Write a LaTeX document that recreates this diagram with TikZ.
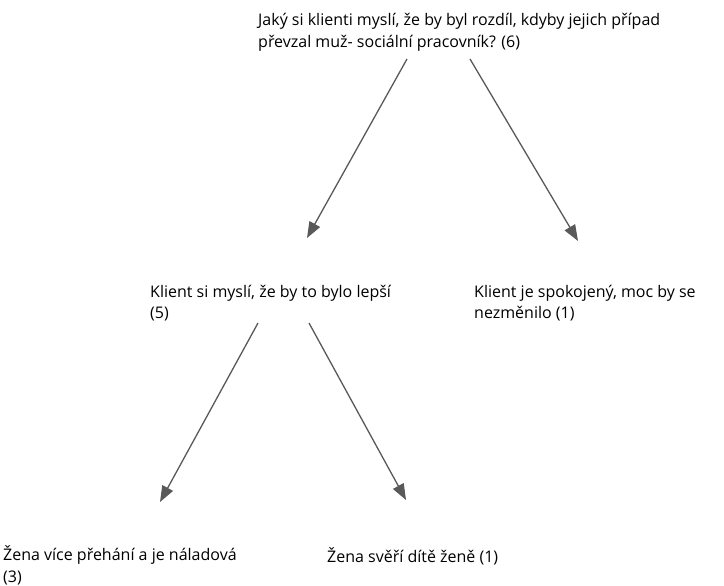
\documentclass[tikz,border=0pt]{standalone}
\usepackage{fontspec}
\setmainfont{Open Sans}
\usetikzlibrary{arrows.meta}

\tikzset{
  txt/.style={anchor=base west,inner sep=0pt,align=left,
    font=\fontsize{16}{21.5}\selectfont},
  arr/.style={draw=black!65,line width=1.3pt,
    -{Triangle[length=16pt,width=12pt,fill=black!65]}}
}

\begin{document}
\begin{tikzpicture}[x=1pt,y=-1pt]
  \useasboundingbox (0,0) rectangle (724,586);
  \node[txt] (q) at (258,47.5) {Jaký si klienti myslí, že by byl rozdíl, kdyby jejich případ\\převzal muž- sociální pracovník? (6)};
  \node[txt] (better) at (150,318.5) {Klient si myslí, že by to bylo lepší\\(5)};
  \node[txt] (same) at (474,318.5) {Klient je spokojený, moc by se\\nezměnilo (1)};
  \node[txt] (moody) at (3,582) {Žena více přehání a je náladová\\(3)};
  \node[txt] (trust) at (327,562) {Žena svěří dítě ženě (1)};
  \coordinate (q1) at (407,59);  \coordinate (b0) at (307,238);
  \coordinate (q2) at (470,59);  \coordinate (s0) at (578,241);
  \coordinate (b1) at (258,323); \coordinate (m0) at (160,502);
  \coordinate (b2) at (309,323); \coordinate (t0) at (406,500);
  \draw[arr] (q1) -- (b0);
  \draw[arr] (q2) -- (s0);
  \draw[arr] (b1) -- (m0);
  \draw[arr] (b2) -- (t0);
\end{tikzpicture}
\end{document}
